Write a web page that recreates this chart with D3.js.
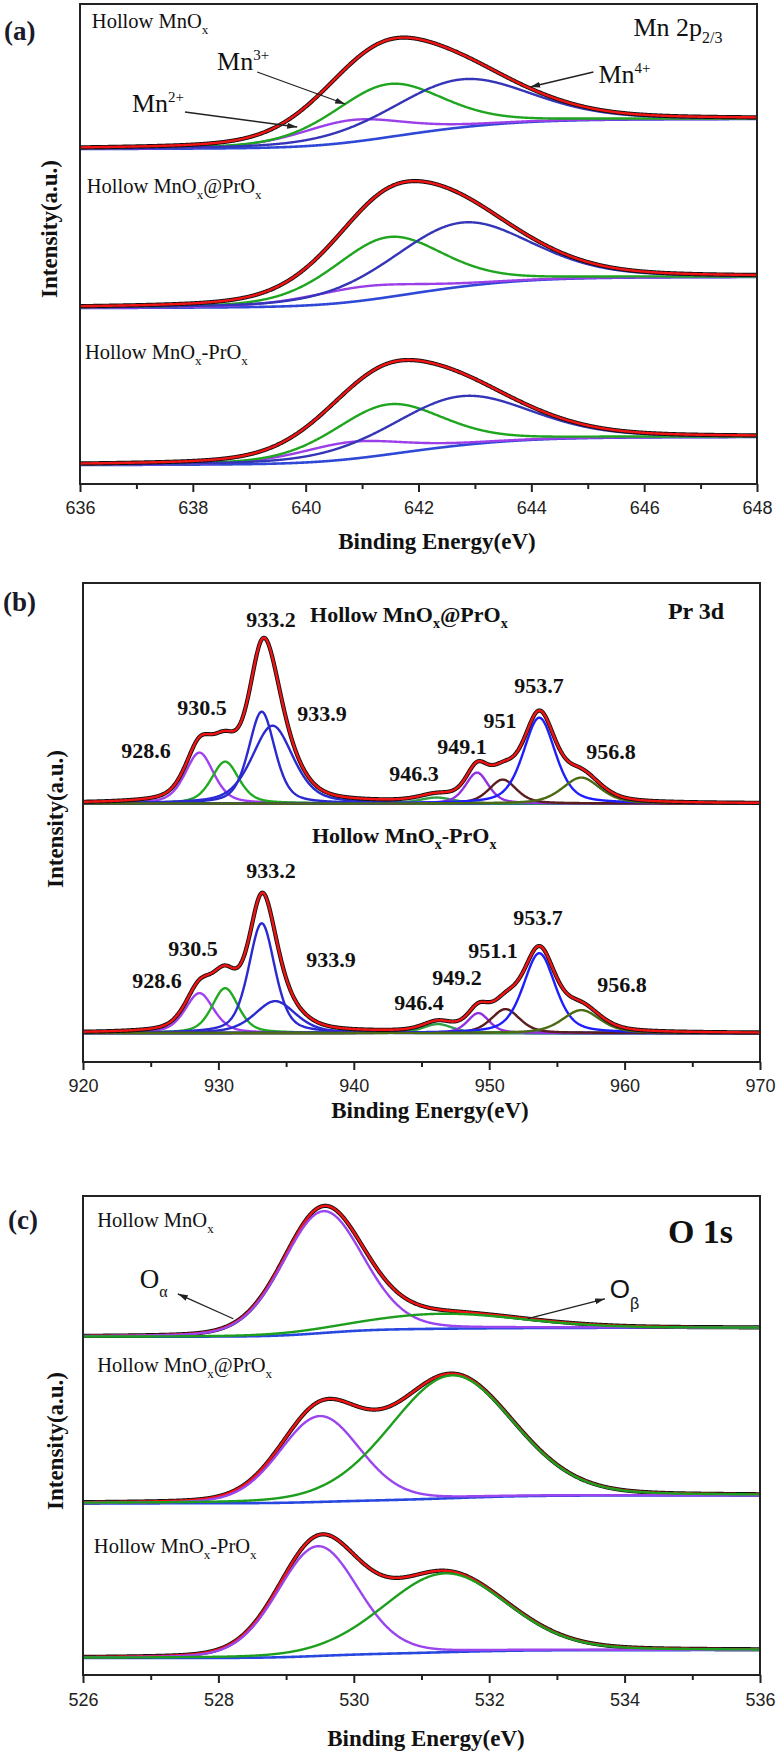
<!DOCTYPE html>
<html><head><meta charset="utf-8">
<script src="https://cdn.jsdelivr.net/npm/d3@7"></script>
<style>body{margin:0;background:#fff} svg{display:block}</style>
</head><body><svg id="chart" width="779" height="1755"></svg>
<script>
// ================= DATA =================
// (a) Mn 2p
const mnSamples = ["Hollow MnO_{x}", "Hollow MnO_{x}@PrO_{x}", "Hollow MnO_{x}-PrO_{x}"];
const mnComponents = ["Mn2+", "Mn3+", "Mn4+"];
const mnCenters = [[640.8, 641.45, 642.75], [641.0, 641.45, 642.75], [640.8, 641.45, 642.75]];
const mnHeights = [[22, 53, 48], [14, 60, 64], [17, 50, 49]];
const mnFwhm = [[2.2, 2.3, 2.9], [2.4, 2.3, 2.9], [2.2, 2.3, 2.9]];
const mnBackground = [[335, 365], [176, 207], [19, 47]];
const mnTicks = [636, 638, 640, 642, 644, 646, 648];
const mnMinorTicks = [637, 639, 641, 643, 645, 647];

// (b) Pr 3d
const prSamples = ["Hollow MnO_{x}@PrO_{x}", "Hollow MnO_{x}-PrO_{x}"];
const prLabels = [["928.6", "930.5", "933.2", "933.9", "946.3", "949.1", "951", "953.7", "956.8"],
                  ["928.6", "930.5", "933.2", "933.9", "946.4", "949.2", "951.1", "953.7", "956.8"]];
const prCenters = [[928.6, 930.5, 933.2, 934.0, 946.1, 949.1, 951.0, 953.7, 956.8],
                   [928.6, 930.5, 933.2, 934.2, 946.2, 949.2, 951.2, 953.7, 956.8]];
const prHeights = [[51, 42, 92, 78, 6, 31, 24, 86, 26],
                   [40, 45, 110, 32, 9, 20, 24, 80, 23]];
const prFwhm = [[2.5, 2.4, 2.3, 3.6, 3.0, 2.0, 2.4, 2.8, 3.3],
                [2.5, 2.3, 2.3, 3.6, 2.6, 1.9, 2.5, 2.8, 3.3]];
const prBackground = [[259, 259], [29, 29]];
const prTicks = [920, 930, 940, 950, 960, 970];
const prMinorTicks = [925, 935, 945, 955, 965];

// (c) O 1s
const oSamples = ["Hollow MnO_{x}", "Hollow MnO_{x}@PrO_{x}", "Hollow MnO_{x}-PrO_{x}"];
const oComponents = ["Oα", "Oβ"];
const oCenters = [[529.55, 531.3], [529.5, 531.45], [529.47, 531.35]];
const oHeights = [[122, 15], [86, 123], [110, 79]];
const oFwhm = [[1.4, 2.8], [1.4, 2.15], [1.4, 2.15]];
const oBackground = [[339, 348], [172, 180], [17, 25]];
const oTicks = [526, 528, 530, 532, 534, 536];
const oMinorTicks = [527, 529, 531, 533, 535];

// ================= LAYOUT / STYLE =================
const SERIF = "'Liberation Serif','Times New Roman',Times,serif";
const SANS = "'Liberation Sans',Arial,Helvetica,sans-serif";
const svg = d3.select("#chart");

const panels = [
  {
    key: "a", left: 80, right: 757, top: 4, bottom: 484, domain: [636, 648],
    ticks: mnTicks, minor: mnMinorTicks, eta: 0.3, tickPad: 9.5,
    centers: mnCenters, heights: mnHeights, fwhm: mnFwhm, bg: mnBackground,
    compColors: ["#9b3fe8", "#1fa51f", "#3535b8"], bgColor: "#2f49d6", compsOnTop: false,
    tag: "(a)", tagX: 4, tagY: 40, titleX: 437, titleY: 541, ylabX: 57, ylabY: 229
  },
  {
    key: "b", left: 83, right: 760, top: 583, bottom: 1062, domain: [920, 970],
    ticks: prTicks, minor: prMinorTicks, eta: 0.45, tickPad: 9.5,
    centers: prCenters, heights: prHeights, fwhm: prFwhm, bg: prBackground,
    compColors: ["#a040f0", "#22aa22", "#2a2ad0", "#2a2ad0", "#2f9f48", "#9030e0", "#5a1e1e", "#1e1eff", "#4d6a14"],
    bgColor: "#3cb48c", compsOnTop: false,
    tag: "(b)", tagX: 3, tagY: 611, titleX: 430, titleY: 1110, ylabX: 63, ylabY: 819
  },
  {
    key: "c", left: 83, right: 760, top: 1196, bottom: 1675, domain: [526, 536],
    ticks: oTicks, minor: oMinorTicks, eta: 0.15, tickPad: 10,
    centers: oCenters, heights: oHeights, fwhm: oFwhm, bg: oBackground,
    compColors: ["#9a45ee", "#1e9e1e"], bgColor: "#2848e0", compsOnTop: true,
    tag: "(c)", tagX: 8, tagY: 1229, titleX: 426, titleY: 1738, ylabX: 63, ylabY: 1441
  }
];

// text annotations (data coordinates: energy, intensity units)
const sampleLabelPos = {
  a: [[636.21, 456], [636.12, 291], [636.09, 125]],
  b: [[936.77, 441], [936.91, 219]],
  c: [[526.21, 449], [526.21, 304], [526.16, 122]]
};
const prLabelPos = [
  [[924.65, 305], [928.79, 348], [933.88, 436], [937.65, 342], [944.45, 282], [947.99, 309], [950.8, 335], [953.68, 370], [959.0, 304]],
  [[925.47, 74], [928.12, 106], [933.88, 184], [938.32, 95], [944.82, 52], [947.62, 77], [950.28, 104], [953.6, 137], [959.81, 70]]
];

// ================= HELPERS =================
const pv = (e, c, h, f, eta) => {
  const t = (e - c) / f;
  return h * (eta / (1 + 4 * t * t) + (1 - eta) * Math.exp(-4 * Math.LN2 * t * t));
};

function richText(sel, str, o) {
  const re = /([_^])\{([^}]*)\}/g;
  let last = 0, m, offset = 0;
  const parts = [];
  while ((m = re.exec(str))) {
    if (m.index > last) parts.push({ t: str.slice(last, m.index), s: 0 });
    parts.push({ t: m[2], s: m[1] === "_" ? 1 : -1 });
    last = re.lastIndex;
  }
  if (last < str.length) parts.push({ t: str.slice(last), s: 0 });
  parts.forEach(p => {
    const target = p.s === 1 ? o.sub : p.s === -1 ? -o.sup : 0;
    const ts = sel.append("tspan").attr("dy", target - offset).text(p.t);
    if (p.s) ts.attr("font-size", o.small);
    offset = target;
  });
  return sel;
}

const defs = svg.append("defs");
defs.append("marker").attr("id", "arrow").attr("viewBox", "0 0 10 6")
  .attr("refX", 10).attr("refY", 3).attr("markerWidth", 10).attr("markerHeight", 6)
  .attr("markerUnits", "userSpaceOnUse").attr("orient", "auto")
  .append("path").attr("d", "M0,0 L10,3 L0,6 Z").attr("fill", "#222");

const scales = {};

panels.forEach(P => {
  const x = d3.scaleLinear().domain(P.domain).range([P.left, P.right]);
  const y = d3.scaleLinear().domain([0, 480]).range([P.bottom, P.top]);
  scales[P.key] = { x, y };
  const g = svg.append("g");

  defs.append("clipPath").attr("id", "clip-" + P.key).append("rect")
    .attr("x", P.left).attr("y", P.top).attr("width", P.right - P.left).attr("height", P.bottom - P.top);
  const plot = g.append("g").attr("clip-path", `url(#clip-${P.key})`);

  const step = (P.domain[1] - P.domain[0]) / 1200;
  const xs = d3.range(P.domain[0], P.domain[1] + step / 2, step);
  const line = d3.line().x(d => x(d[0])).y(d => y(d[1])).curve(d3.curveLinear);

  P.centers.forEach((cs, si) => {
    const comps = cs.map((c, i) => xs.map(e => pv(e, c, P.heights[si][i], P.fwhm[si][i], P.eta)));
    const env = xs.map((e, k) => d3.sum(comps, cc => cc[k]));
    let cum = 0;
    const cumArr = env.map(v => (cum += v));
    const [b0, b1] = P.bg[si];
    const bg = xs.map((e, k) => b0 + (b1 - b0) * cumArr[k] / cum);

    const drawComps = () => comps.forEach((cc, i) => {
      plot.append("path").datum(xs.map((e, k) => [e, bg[k] + cc[k]]))
        .attr("d", line).attr("fill", "none").attr("stroke", P.compColors[i])
        .attr("stroke-width", 2.4).attr("stroke-linejoin", "round");
    });
    const drawBg = () => plot.append("path").datum(xs.map((e, k) => [e, bg[k]]))
      .attr("d", line).attr("fill", "none").attr("stroke", P.bgColor).attr("stroke-width", 2.6);
    const drawEnv = () => {
      const pts = xs.map((e, k) => [e, bg[k] + env[k]]);
      plot.append("path").datum(pts).attr("d", line).attr("fill", "none")
        .attr("stroke", "#111").attr("stroke-width", 4.2).attr("stroke-linejoin", "round");
      plot.append("path").datum(pts).attr("d", line).attr("fill", "none")
        .attr("stroke", "#f21414").attr("stroke-width", 2.4).attr("stroke-linejoin", "round");
    };
    drawBg();
    if (P.compsOnTop) { drawEnv(); drawComps(); }
    else { drawComps(); drawEnv(); }
  });

  // frame
  g.append("rect").attr("x", P.left).attr("y", P.top).attr("width", P.right - P.left)
    .attr("height", P.bottom - P.top).attr("fill", "none").attr("stroke", "#222").attr("stroke-width", 2);

  // axes
  const ax = g.append("g").attr("transform", `translate(0,${P.bottom})`)
    .call(d3.axisBottom(x).tickValues(P.ticks).tickSize(8).tickPadding(P.tickPad).tickFormat(d3.format("d")));
  ax.select(".domain").remove();
  ax.selectAll(".tick line").attr("stroke", "#222").attr("stroke-width", 2);
  ax.selectAll(".tick text").attr("font-family", SANS).attr("font-size", 18).attr("fill", "#222");
  const axm = g.append("g").attr("transform", `translate(0,${P.bottom})`)
    .call(d3.axisBottom(x).tickValues(P.minor).tickSize(5).tickFormat(""));
  axm.select(".domain").remove();
  axm.selectAll(".tick line").attr("stroke", "#222").attr("stroke-width", 2);

  // titles
  g.append("text").attr("x", P.titleX).attr("y", P.titleY).attr("dominant-baseline", "central")
    .attr("text-anchor", "middle").attr("font-family", SERIF).attr("font-weight", "bold")
    .attr("font-size", 23).attr("fill", "#111").text("Binding Energy(eV)");
  g.append("text").attr("transform", `translate(${P.ylabX},${P.ylabY}) rotate(-90)`)
    .attr("text-anchor", "middle").attr("font-family", SERIF).attr("font-weight", "bold")
    .attr("font-size", 23).attr("fill", "#111").text("Intensity(a.u.)");
  g.append("text").attr("x", P.tagX).attr("y", P.tagY).attr("font-family", SERIF)
    .attr("font-weight", "bold").attr("font-size", 27).attr("fill", "#1a1a2a").text(P.tag);
});

// ---------- annotations ----------
function sampleLabels(key, names, bold) {
  const { x, y } = scales[key];
  names.forEach((n, i) => {
    const [e, v] = sampleLabelPos[key][i];
    const t = svg.append("text").attr("x", x(e)).attr("y", y(v)).attr("font-family", SERIF)
      .attr("font-size", bold ? 22 : 20.5).attr("font-weight", bold ? "bold" : "normal").attr("fill", "#111");
    richText(t, n, { sub: 6, sup: 8, small: bold ? 14 : 13 });
  });
}
sampleLabels("a", mnSamples, false);
sampleLabels("b", prSamples, true);
sampleLabels("c", oSamples, false);

function arrow(key, from, to) {
  const { x, y } = scales[key];
  svg.append("line").attr("x1", x(from[0])).attr("y1", y(from[1])).attr("x2", x(to[0])).attr("y2", y(to[1]))
    .attr("stroke", "#222").attr("stroke-width", 1.3).attr("marker-end", "url(#arrow)");
}
function label(key, pos, str, o) {
  const { x, y } = scales[key];
  const t = svg.append("text").attr("x", x(pos[0])).attr("y", y(pos[1]))
    .attr("font-family", o.family || SERIF).attr("font-size", o.size)
    .attr("font-weight", o.weight || "normal").attr("text-anchor", o.anchor || "start").attr("fill", "#111");
  richText(t, str, { sub: o.sub || 6, sup: o.sup || 9, small: o.small || 15 });
}

// (a)
label("a", [645.81, 448], "Mn 2p_{2/3}", { size: 26, sub: 7, small: 16 });
label("a", [638.43, 414], "Mn^{3+}", { size: 26, sup: 10, small: 15 });
label("a", [636.92, 372], "Mn^{2+}", { size: 26, sup: 10, small: 15 });
label("a", [645.19, 401], "Mn^{4+}", { size: 26, sup: 10, small: 15 });
arrow("a", [639.14, 412], [640.70, 380]);
arrow("a", [637.86, 372], [639.85, 357]);
arrow("a", [645.10, 412], [643.98, 397]);

// (b)
label("b", [963.2, 444], "Pr 3d", { size: 24, weight: "bold" });
prLabels.forEach((arr, si) => arr.forEach((s, i) => {
  label("b", prLabelPos[si][i], s, { size: 22, weight: "bold", anchor: "middle" });
}));

// (c)
label("c", [534.64, 433], "O 1s", { size: 34, weight: "bold" });
label("c", [526.84, 388], "O_{α}", { size: 27, sub: 9, small: 16 });
label("c", [533.78, 378], "O_{β}", { size: 26, sub: 11, small: 16, family: SANS });
arrow("c", [528.22, 357], [527.40, 382]);
arrow("c", [532.57, 357], [533.71, 377]);
</script></body></html>
